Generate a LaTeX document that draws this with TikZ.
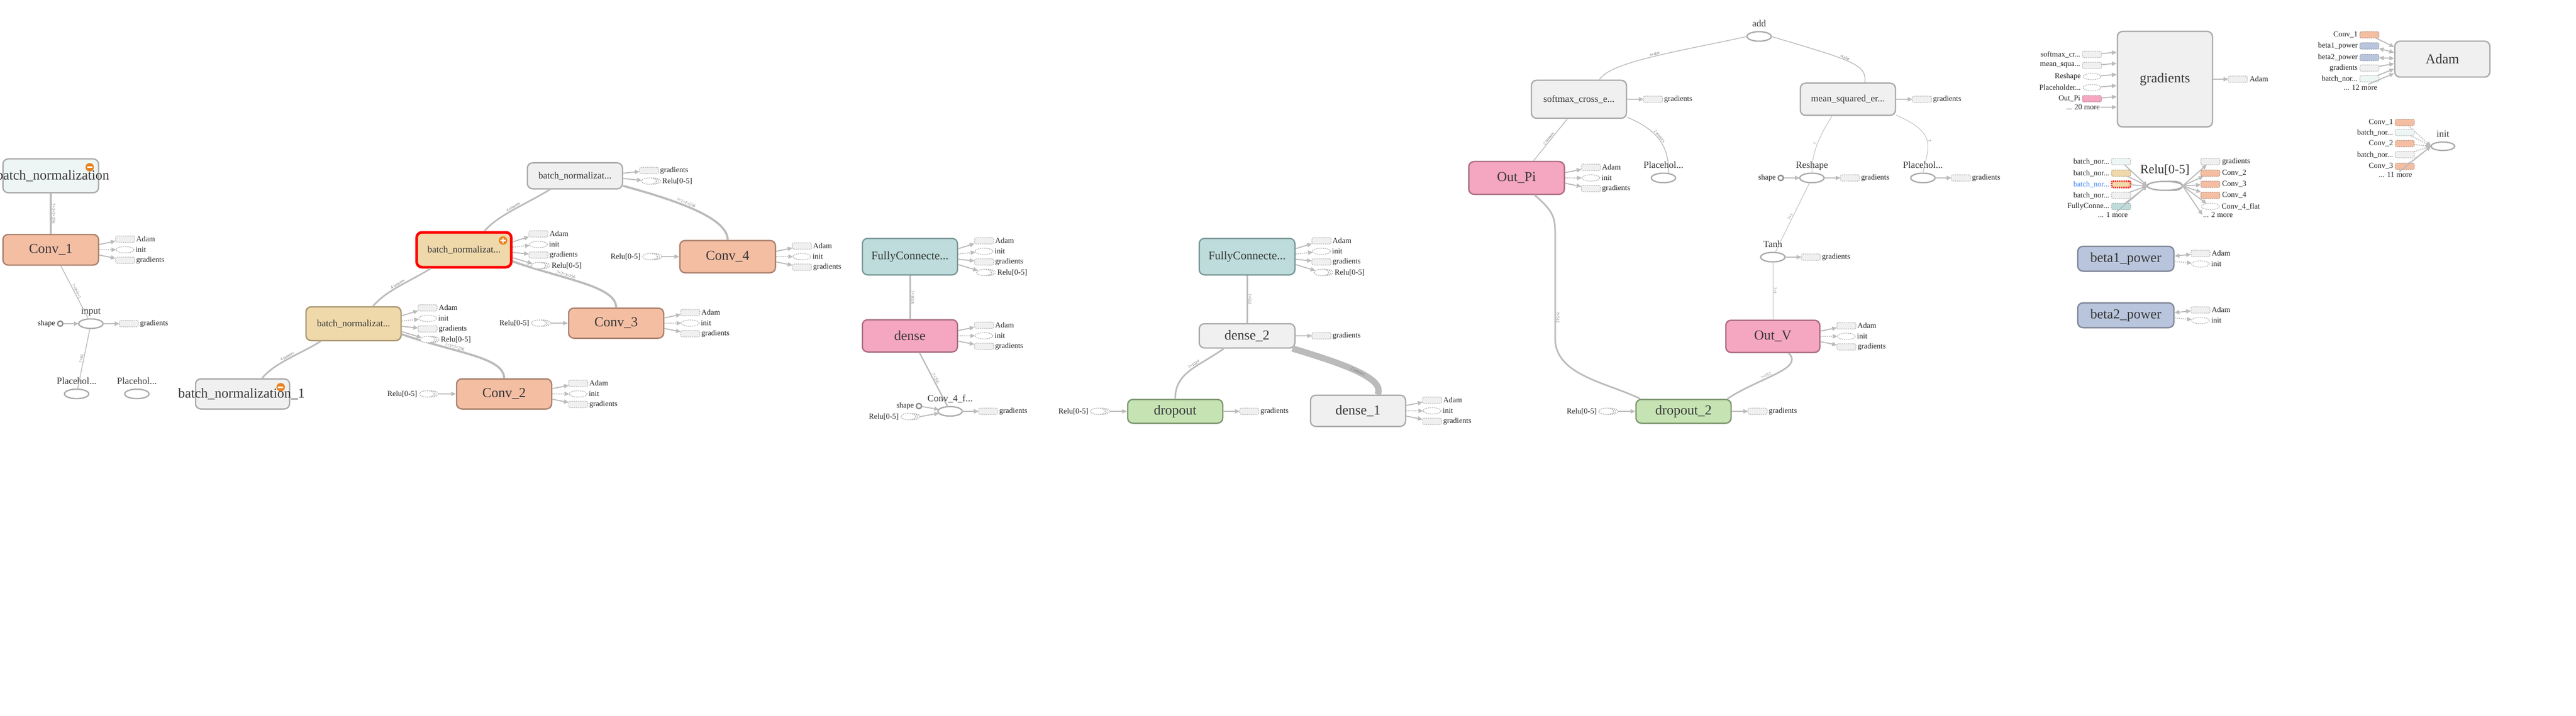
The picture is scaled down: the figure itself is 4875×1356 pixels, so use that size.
\documentclass[tikz,border=0pt]{standalone}
\usepackage{fontspec}
\setmainfont{Liberation Serif}
\usetikzlibrary{calc,arrows.meta,shapes.geometric}

\definecolor{edgec}{RGB}{187,187,187}
\definecolor{grayf}{RGB}{240,240,240}
\definecolor{grayd}{RGB}{170,170,170}
\definecolor{cyanf}{RGB}{238,246,245}
\definecolor{convf}{RGB}{244,190,163}
\definecolor{convd}{RGB}{170,128,108}
\definecolor{bnf}{RGB}{239,217,171}
\definecolor{bnd}{RGB}{168,150,112}
\definecolor{fcf}{RGB}{189,220,219}
\definecolor{fcd}{RGB}{122,152,152}
\definecolor{pinkf}{RGB}{245,166,192}
\definecolor{pinkd}{RGB}{168,108,128}
\definecolor{greenf}{RGB}{198,227,180}
\definecolor{greend}{RGB}{125,150,110}
\definecolor{betaf}{RGB}{185,197,220}
\definecolor{betad}{RGB}{128,135,152}
\definecolor{iconc}{RGB}{232,130,32}
\definecolor{bluet}{RGB}{66,133,244}

\newcommand{\fbig}{\fontsize{26}{28}\selectfont}
\newcommand{\fmid}{\fontsize{18}{20}\selectfont}
\newcommand{\fsm}{\fontsize{14.5}{16}\selectfont}
\newcommand{\ftiny}{\fontsize{8}{9}\selectfont}
\newcommand{\ellip}{...}

\tikzset{
  box/.style={rounded corners=10pt, line width=2.5pt, minimum width=180pt, inner sep=2pt, text=black!78, font=\fbig},
  convbox/.style={box, fill=convf, draw=convd},
  bnbox/.style={box, fill=bnf, draw=bnd, font=\fmid},
  graybox/.style={box, fill=grayf, draw=grayd},
  fcbox/.style={box, fill=fcf, draw=fcd, font=\fontsize{22}{24}\selectfont},
  pinkbox/.style={box, fill=pinkf, draw=pinkd},
  greenbox/.style={box, fill=greenf, draw=greend},
  betabox/.style={box, fill=betaf, draw=betad},
  opnode/.style={ellipse, draw=grayd, line width=2.5pt, fill=white, minimum width=46pt, minimum height=18pt, inner sep=0pt, outer sep=0pt},
  oplbl/.style={font=\fmid, text=black!78, text height=12pt, text depth=3pt, inner sep=1pt},
  shapenode/.style={circle, draw=black!45, line width=2.5pt, fill=white, minimum size=10pt, inner sep=0pt},
  stubline/.style={draw=grayd, line width=1.2pt, dash pattern=on 2pt off 1.5pt},
  stuba/.style={rectangle, rounded corners=3pt, stubline, draw={#1!75!black}, fill=#1, minimum width=36pt, minimum height=12pt, inner sep=0pt, outer sep=0pt},
  stuba/.default=grayf,
  stubb/.style={stuba=#1},
  stubb/.default=grayf,
  stubi/.style={ellipse, stubline, fill=white, minimum width=34pt, minimum height=12pt, inner sep=0pt, outer sep=0pt},
  stubr/.style={stubi, minimum width=28pt, append after command={\pgfextra{
      \draw[stubline] ($(\tikzlastnode.north)+(4,0)$) arc[start angle=90, end angle=-90, x radius=14pt, y radius=6pt]
        ($(\tikzlastnode.north)+(8,0)$) arc[start angle=90, end angle=-90, x radius=14pt, y radius=6pt];}}},
  lbl/.style={font=\fsm, text=black!85, inner sep=1pt},
  link/.style={draw=edgec, line width=#1},
  link/.default=2pt,
  elbl/.style={font=\ftiny, text=black!55, sloped, above, inner sep=1pt},
  edgea/.style={draw=edgec, line width=2pt, -{Triangle[length=9pt,width=8pt]}},
  edgei/.style={edgea, dash pattern=on 2pt off 2pt},
  edger/.style={edgea},
  edgeb/.style={draw=edgec, line width=2pt, {Triangle[length=9pt,width=8pt]}-{Triangle[length=9pt,width=8pt]}},
  icon/.style={circle, fill=iconc, minimum size=16pt, inner sep=0pt}
}

% stubs on the right side of a node: node, count, list label/type
\newcommand{\outs}[3]{%
  \foreach \l/\k [count=\i] in {#3} {
    \if r\k \def\lgap{10}\else\def\lgap{2}\fi
    \path (#1.east) ++(49,{(\i-(#2+1)/2)*20}) node[stub\k] (#1o\i) {};
    \node[lbl, anchor=west] (#1t\i) at ($(#1o\i.east)+(\lgap,0)$) {\l};
    \draw[edge\k] ($(#1.east)!.5!(#1.east |- #1o\i)$) -- (#1o\i);
  }}
% Relu[0-5] input on the left side
\newcommand{\relin}[1]{%
  \node[stubr] (#1in) at ($(#1.west)+(-55,0)$) {};
  \node[lbl, anchor=east] (#1inl) at ($(#1in.west)+(-3,0)$) {Relu[0-5]};
  \draw[edger] ($(#1in.east)+(8,0)$) -- (#1.west);}

\begin{document}
\begin{tikzpicture}[x=1pt,y=-1pt]
\useasboundingbox (0,0) rectangle (4875,1356);
\fill[white] (0,0) rectangle (4875,1356);

%% conv part
\node[box, fill=cyanf, draw=grayd, minimum height=64pt, minimum width=181pt] (bnz) at (96,333) {};
\node[icon] (bnzic) at ($(bnz.north east)+(-18,17)$) {};
\draw[white, line width=2.5pt] ($(bnzic)+(-5,0)$) -- ($(bnzic)+(5,0)$);
\node[font=\fbig, text=black!78] (bnzt) at (100,333) {batch\_normalization};
\node[convbox, minimum height=58pt, minimum width=181pt] (conv1) at (96,473) {Conv\_1};
\node[opnode] (input) at (172,613) {};
\node[oplbl] (inputl) at ($(input)+(0,-23)$) {input};
\node[shapenode] (shape1) at (114,613) {};
\node[lbl, anchor=east] (shape1l) at ($(shape1.west)+(-2,0)$) {shape};
\node[opnode] (ph1) at (145,746) {};
\node[oplbl] (ph1l) at ($(ph1)+(0,-23)$) {Placehol...};
\node[opnode] (ph2) at (259,746) {};
\node[oplbl] (ph2l) at ($(ph2)+(0,-23)$) {Placehol...};

\node[graybox, minimum height=57pt, minimum width=178pt] (bn1) at (459,746) {};
\node[icon] (bn1ic) at ($(bn1.north east)+(-18,17)$) {};
\draw[white, line width=2.5pt] ($(bn1ic)+(-5,0)$) -- ($(bn1ic)+(5,0)$);
\node[font=\fbig, text=black!78] (bn1t) at (457,746) {batch\_normalization\_1};
\node[bnbox, minimum height=64pt] (bnmid) at (669,613) {batch\_normalizat...};
\node[bnbox, draw=red, line width=5pt, minimum height=66pt, minimum width=179pt] (bnred) at (878,473) {batch\_normalizat...};
\node[icon] (bnredic) at ($(bnred.north east)+(-18,18)$) {};
\draw[white, line width=2.5pt] ($(bnredic)+(-5,0)$) -- ($(bnredic)+(5,0)$) ($(bnredic)+(0,-5)$) -- ($(bnredic)+(0,5)$);
\node[graybox, font=\fmid, minimum height=49pt] (bntop) at (1088,333) {batch\_normalizat...};
\node[convbox, minimum height=57pt] (conv2) at (954,746) {Conv\_2};
\node[convbox, minimum height=57pt] (conv3) at (1166,612) {Conv\_3};
\node[convbox, minimum height=61pt, minimum width=181pt] (conv4) at (1377,486) {Conv\_4};

\draw[link=3.5pt] (bnz) -- (conv1) node[elbl, pos=.5] {?×3×3×256};
\draw[link=1.5pt] ($(conv1.south)+(19,0)$) -- (input) node[elbl, pos=.5] {?×9×9×1};
\draw[link=1.5pt] (input) -- (ph1) node[elbl, pos=.5] {?×81};
\draw[edgea] (shape1) -- (input);
\draw[link=3pt] ($(bn1.north)+(37,0)$) .. controls +(25,-30) and +(-40,25) .. ($(bnmid.south)+(-62,0)$) node[elbl, pos=.5] {4 tensors};
\draw[link=3pt] ($(bnmid.north)+(37,0)$) .. controls +(25,-30) and +(-40,25) .. ($(bnred.south)+(-63,0)$) node[elbl, pos=.5] {4 tensors};
\draw[link=3pt] ($(bnred.north)+(39,0)$) .. controls +(25,-30) and +(-40,25) .. ($(bntop.south)+(-47,0)$) node[elbl, pos=.5] {4 tensors};
\draw[link=4pt] ($(bnmid.east)+(0,20)$) .. controls +(100,35) and +(0,-40) .. (conv2.north) node[elbl, pos=.35] {?×3×3×256};
\draw[link=4pt] ($(bnred.east)+(0,22)$) .. controls +(100,35) and +(0,-40) .. (conv3.north) node[elbl, pos=.35] {?×3×3×256};
\draw[link=4pt] ($(bntop.east)+(0,19)$) .. controls +(110,30) and +(0,-40) .. (conv4.north) node[elbl, pos=.4] {?×1×1×256};

\outs{conv1}{3}{Adam/a, init/i, gradients/a}
\outs{input}{1}{gradients/a}
\outs{bnmid}{4}{Adam/a, init/i, gradients/a, Relu[0-5]/r}
\outs{bnred}{4}{Adam/a, init/i, gradients/a, Relu[0-5]/r}
\outs{bntop}{2}{gradients/a, Relu[0-5]/r}
\outs{conv2}{3}{Adam/a, init/i, gradients/a}
\outs{conv3}{3}{Adam/a, init/i, gradients/a}
\outs{conv4}{3}{Adam/a, init/i, gradients/a}
\relin{conv2}
\relin{conv3}
\relin{conv4}

%% dense part
\node[fcbox, minimum height=69pt] (fc) at (1722,486) {FullyConnecte...};
\node[pinkbox, minimum height=61pt] (dense) at (1722,636) {dense};
\node[opnode] (conv4f) at (1798,779) {};
\node[oplbl] (conv4fl) at ($(conv4f)+(0,-23)$) {Conv\_4\_f...};
\node[shapenode] (shape3) at (1739,769) {};
\node[lbl, anchor=east] (shape3l) at ($(shape3.west)+(-2,0)$) {shape};
\node[stubr] (conv4fin) at (1719,789) {};
\node[lbl, anchor=east] (conv4finl) at ($(conv4fin.west)+(-3,0)$) {Relu[0-5]};
\node[greenbox, minimum height=45pt] (dropout) at (2224,779) {dropout};
\node[fcbox, minimum height=69pt, minimum width=181pt] (fc2) at (2360,486) {FullyConnecte...};
\node[graybox, minimum height=46pt, minimum width=181pt] (dense2) at (2360,636) {dense\_2};
\node[graybox, minimum height=59pt] (dense1) at (2570,778) {dense\_1};

\draw[link=3pt] (fc) -- (dense) node[elbl, pos=.5] {?×1024};
\draw[link=2.5pt] ($(dense.south)+(18,0)$) -- (conv4f) node[elbl, pos=.5] {?×256};
\draw[edgea] (shape3) -- (conv4f);
\draw[edger] ($(conv4fin.east)+(8,0)$) -- (conv4f);
\draw[link=3pt] (fc2) -- (dense2) node[elbl, pos=.5] {?×512};
\draw[link=3pt] ($(dense2.south)+(-44,0)$) .. controls +(-50,35) and +(0,-50) .. (dropout.north) node[elbl, pos=.4] {?×1024};
\draw[link=12pt] ($(dense2.east)+(-6,24)$) .. controls +(100,30) and +(15,-30) .. ($(dense1.north)+(37,0)$) node[elbl, pos=.5, anchor=center] {2 tensors};

\outs{fc}{4}{Adam/a, init/i, gradients/a, Relu[0-5]/r}
\outs{dense}{3}{Adam/a, init/i, gradients/a}
\outs{conv4f}{1}{gradients/a}
\outs{dropout}{1}{gradients/a}
\outs{fc2}{4}{Adam/a, init/i, gradients/a, Relu[0-5]/r}
\outs{dense2}{1}{gradients/a}
\outs{dense1}{3}{Adam/a, init/i, gradients/a}
\relin{dropout}

%% loss part
\node[opnode] (add) at (3329,69) {};
\node[oplbl] (addl) at ($(add)+(0,-23)$) {add};
\node[graybox, font=\fmid, minimum height=72pt] (softmax) at (2988,188) {softmax\_cross\_e...};
\node[graybox, font=\fmid, minimum height=61pt] (mse) at (3497,188) {mean\_squared\_er...};
\node[pinkbox, minimum height=62pt, minimum width=181pt] (outpi) at (2870,337) {Out\_Pi};
\node[opnode] (ph3) at (3148,337) {};
\node[oplbl] (ph3l) at ($(ph3)+(0,-23)$) {Placehol...};
\node[opnode] (reshape) at (3429,337) {};
\node[oplbl] (reshapel) at ($(reshape)+(0,-23)$) {Reshape};
\node[shapenode] (shape2) at (3370,337) {};
\node[lbl, anchor=east] (shape2l) at ($(shape2.west)+(-2,0)$) {shape};
\node[opnode] (ph4) at (3639,337) {};
\node[oplbl] (ph4l) at ($(ph4)+(0,-23)$) {Placehol...};
\node[opnode] (tanh) at (3355,487) {};
\node[oplbl] (tanhl) at ($(tanh)+(0,-23)$) {Tanh};
\node[pinkbox, minimum height=61pt, minimum width=178pt] (outv) at (3355,637) {Out\_V};
\node[greenbox, minimum height=45pt] (drop2) at (3186,779) {dropout\_2};

\draw[link=1.5pt] (add.west) .. controls +(-110,25) and +(20,-35) .. ($(softmax.north)+(39,0)$) node[elbl, pos=.5] {scalar};
\draw[link=1.5pt] (add.east) .. controls +(150,45) and +(5,-35) .. ($(mse.north)+(32,0)$) node[elbl, pos=.45] {scalar};
\draw[link=1.5pt] ($(softmax.south)+(-22,0)$) -- ($(outpi.north)+(32,0)$) node[elbl, pos=.5] {2 tensors};
\draw[link=1.5pt] ($(softmax.east)+(0,34)$) .. controls +(60,25) and +(0,-50) .. ($(ph3.north)+(10,0)$) node[elbl, pos=.45] {2 tensors};
\draw[link=1pt] ($(mse.south)+(-30,0)$) .. controls +(-25,40) and +(0,-40) .. (reshape.north) node[elbl, pos=.5] {?};
\draw[link=1pt] ($(mse.east)+(0,30)$) .. controls +(80,35) and +(10,-50) .. (ph4.north) node[elbl, pos=.5] {?};
\draw[edgea] (shape2) -- (reshape);
\draw[link=1pt] (reshape) -- (tanh) node[elbl, pos=.5] {?×1};
\draw[link=1pt] (tanh) -- (outv) node[elbl, pos=.5] {?×1};
\draw[link=3pt] ($(outpi.south)+(34,0)$) .. controls +(35,30) and +(0,-30) .. ++(39,72) -- ++(0,200) node[elbl, pos=.8] {?×512}
  .. controls +(0,70) and +(-60,-30) .. ($(drop2.north)+(-82,0)$);
\draw[link=3pt] ($(outv.south)+(30,0)$) .. controls +(30,30) and +(60,-40) .. ($(drop2.north)+(83,0)$) node[elbl, pos=.6] {?×512};

\outs{softmax}{1}{gradients/a}
\outs{mse}{1}{gradients/a}
\outs{outpi}{3}{Adam/a, init/i, gradients/a}
\outs{reshape}{1}{gradients/a}
\outs{ph4}{1}{gradients/a}
\outs{tanh}{1}{gradients/a}
\outs{outv}{3}{Adam/a, init/i, gradients/a}
\outs{drop2}{1}{gradients/a}
\relin{drop2}

%% training part
\node[graybox, minimum height=181pt] (grads) at (4097,150) {gradients};
\foreach \l/\c/\s [count=\i] in {softmax\_cr\ellip/grayf/a, mean\_squa\ellip/grayf/a, Reshape/white/i, Placeholder\ellip/white/i, Out\_Pi/pinkf/a} {
  \node[stub\s=\c] (gi\i) at (3959,{103+(\i-1)*21}) {};
  \node[lbl, anchor=east] (gi\i l) at ($(gi\i.west)+(-3,0)$) {\l};
  \draw[edgea] (gi\i) -- ($(grads.west |- gi\i)+(0,-4)$);
}
\node[lbl, anchor=east] (gmore) at (3975,203) {... 20 more};
\draw[edgea] (gmore) -- (grads.west |- gmore);
\node[stuba] (go1) at (4235,150) {};
\node[lbl, anchor=west] (go1l) at ($(go1.east)+(3,0)$) {Adam};
\draw[edgea] (grads) -- (go1);

\node[opnode, minimum width=67pt, minimum height=17pt] (relu) at (4097,352) {};
\draw[grayd, line width=2.5pt] ($(relu.north)+(8,0)$) arc[start angle=90, end angle=-90, x radius=25pt, y radius=8.5pt]
  ($(relu.north)+(16,0)$) arc[start angle=90, end angle=-90, x radius=17pt, y radius=8.5pt];
\node[oplbl, font=\fontsize{24}{26}\selectfont] (relul) at ($(relu)+(0,-28)$) {Relu[0-5]};
\foreach \l/\c/\y [count=\i] in {batch\_nor\ellip/cyanf/306, batch\_nor\ellip/bnf/328, batch\_nor\ellip/grayf/370, FullyConne\ellip/fcf/391} {
  \node[stuba=\c] (ri\i) at (4014,\y) {};
  \node[lbl, anchor=east] (ri\i l) at ($(ri\i.west)+(-3,0)$) {\l};
  \draw[edgea] (ri\i) -- (relu.west);
}
\node[stuba=bnf, draw=red, line width=3pt, dash pattern=on 2pt off 1.5pt] (ri5) at (4014,349) {};
\node[lbl, anchor=east, text=bluet] (ri5l) at ($(ri5.west)+(-3,0)$) {batch\_nor...};
\draw[edgea] (ri5) -- (relu.west);
\node[lbl, anchor=east] (rmore) at (4028,407) {... 1 more};
\draw[edgea] (rmore) -- (relu.west);
\foreach \l/\c/\s/\y [count=\i] in {gradients/grayf/a/306, Conv\_2/convf/a/328, Conv\_3/convf/a/349, Conv\_4/convf/a/370, Conv\_4\_flat/white/i/391} {
  \node[stub\s=\c] (ro\i) at (4183,\y) {};
  \node[lbl, anchor=west] (ro\i l) at ($(ro\i.east)+(3,0)$) {\l};
  \draw[edgea] (relu.east) -- (ro\i);
}
\node[lbl, anchor=west] (rmore2) at (4168,407) {... 2 more};
\draw[edgea] (relu.east) -- (rmore2.west);

\node[betabox, minimum height=47pt, minimum width=182pt] (beta1) at (4023,490) {beta1\_power};
\node[betabox, minimum height=47pt, minimum width=182pt] (beta2) at (4023,597) {beta2\_power};
\outs{beta1}{2}{Adam/b, init/i}
\outs{beta2}{2}{Adam/b, init/i}

\node[graybox, minimum height=68pt] (adam) at (4622,112) {Adam};
\foreach \l/\c/\s/\y [count=\i] in {Conv\_1/convf/a/66, beta1\_power/betaf/b/87, beta2\_power/betaf/b/109, gradients/grayf/a/129, batch\_nor\ellip/cyanf/a/149} {
  \node[stuba=\c] (ai\i) at (4484,\y) {};
  \node[lbl, anchor=east] (ai\i l) at ($(ai\i.west)+(-3,0)$) {\l};
  \draw[edge\s] (ai\i) -- ($(adam.west)!.5!(adam.west |- ai\i)$);
}
\node[lbl, anchor=east] (amore) at (4500,166) {... 12 more};
\draw[edgea] (amore) -- ($(adam.west)!.5!(adam.west |- amore)$);

\node[opnode, minimum width=45pt, minimum height=16pt] (init) at (4623,277) {};
\node[oplbl] (initl) at ($(init)+(0,-22)$) {init};
\foreach \l/\c/\y [count=\i] in {Conv\_1/convf/232, batch\_nor\ellip/cyanf/251, Conv\_2/convf/272, batch\_nor\ellip/grayf/293, Conv\_3/convf/315} {
  \node[stuba=\c] (ii\i) at (4551,\y) {};
  \node[lbl, anchor=east] (ii\i l) at ($(ii\i.west)+(-3,0)$) {\l};
  \draw[edgei] (ii\i) -- (init.west);
}
\node[lbl, anchor=east] (imore) at (4566,331) {... 11 more};
\draw[edgea] (imore) -- (init.west);
\end{tikzpicture}
\end{document}
